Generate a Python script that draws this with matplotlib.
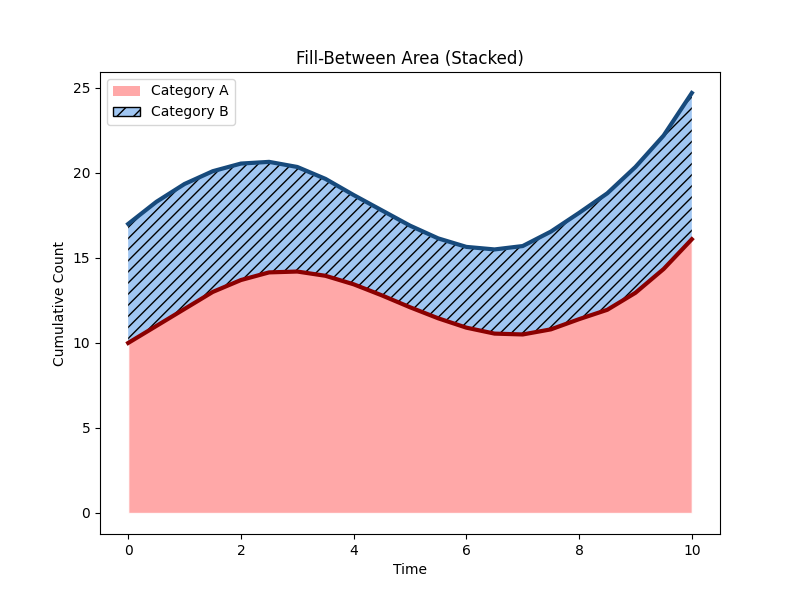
import numpy as np
import matplotlib
matplotlib.use('Agg')
import matplotlib.pyplot as plt
from matplotlib.patches import Patch

# values, every half unit of time
time = [0, 0.5, 1, 1.5, 2, 2.5, 3, 3.5, 4, 4.5, 5,
        5.5, 6, 6.5, 7, 7.5, 8, 8.5, 9, 9.5, 10]
cat_a = [10.0, 11.0, 12.0, 13.0, 13.7, 14.15, 14.2, 13.95, 13.45, 12.8, 12.1,
         11.45, 10.9, 10.55, 10.5, 10.8, 11.4, 11.95, 12.95, 14.35, 16.1]
cat_b = [7.0, 7.3, 7.35, 7.1, 6.85, 6.5, 6.15, 5.7, 5.25, 5.0, 4.8,
         4.7, 4.75, 4.95, 5.2, 5.75, 6.25, 6.85, 7.4, 7.85, 8.6]
labels = ['Category A', 'Category B']

t = np.array(time)
a = np.array(cat_a)
top = a + np.array(cat_b)

fig, ax = plt.subplots(figsize=(8, 6), dpi=100)

ax.fill_between(t, 0, a, color='#ff9999', alpha=0.85, edgecolor='white', linewidth=1)
ax.fill_between(t, a, top, facecolor='#a0c6f2', edgecolor='black', hatch='///', linewidth=0)

ax.plot(t, a, color='#8b0000', linewidth=3)
ax.plot(t, top, color='#174a7c', linewidth=3)

handles = [Patch(facecolor='#ff9999', alpha=0.85, edgecolor='none'),
           Patch(facecolor='#a0c6f2', edgecolor='black', hatch='//')]
ax.legend(handles, labels, loc='upper left')

ax.set_title('Fill-Between Area (Stacked)')
ax.set_xlabel('Time')
ax.set_ylabel('Cumulative Count')

fig.savefig('out.png')
